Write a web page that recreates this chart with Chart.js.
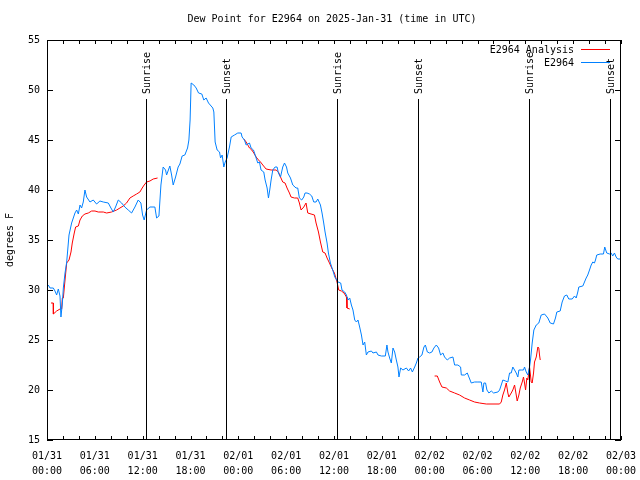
<!DOCTYPE html>
<html>
<head>
<meta charset="utf-8">
<script src="https://cdn.jsdelivr.net/npm/chart.js@4.4.1/dist/chart.umd.min.js"></script>
<style>
  html, body { margin: 0; padding: 0; background: #fff; }
</style>
</head>
<body>
<canvas id="dewChart" width="640" height="480"></canvas>
<script>
// hours since 2025-01-31 00:00 UTC
const obsHours = [0.16,0.38,0.79,1.0,1.21,1.42,1.63,1.75,1.92,2.05,2.26,2.47,2.76,3.09,3.51,3.72,3.93,4.14,4.34,4.55,4.76,4.97,5.39,5.8,6.22,6.64,7.06,7.69,8.02,8.31,8.6,8.94,9.36,9.77,10.19,10.61,11.03,11.44,11.78,11.99,12.19,12.49,12.91,13.53,13.75,14.04,14.29,14.57,14.87,15.0,15.41,15.63,15.83,16.13,16.45,16.67,16.95,17.29,17.63,17.8,17.95,18.08,18.42,18.71,19.01,19.42,19.67,19.96,20.26,20.8,20.93,21.09,21.34,21.64,21.77,21.97,22.18,22.35,22.59,22.89,23.1,23.52,23.93,24.35,24.47,24.77,24.98,25.4,25.6,25.9,26.03,26.23,26.44,26.65,26.85,27.19,27.36,27.61,27.78,27.94,28.11,28.32,28.61,28.86,29.03,29.29,29.57,29.79,30.04,30.2,30.54,30.83,31.24,31.45,31.66,31.95,32.21,32.37,32.62,32.92,33.21,33.46,33.75,33.96,34.3,34.5,34.71,34.88,35.13,35.3,35.55,35.84,36.1,36.5,36.84,37.0,37.34,37.56,37.76,37.97,38.18,38.38,38.6,38.81,39.01,39.22,39.44,39.64,39.85,40.06,40.26,40.69,40.89,41.32,41.52,41.94,42.44,42.64,42.77,42.98,43.19,43.4,43.61,43.82,44.02,44.15,44.36,44.65,45.08,45.36,45.61,45.83,46.12,46.33,46.53,46.74,47.03,47.28,47.46,47.71,48.0,48.28,48.53,48.83,49.12,49.37,49.66,49.87,50.21,50.5,50.92,51.13,51.54,51.88,51.97,52.38,52.72,52.92,53.22,53.63,54.05,54.47,54.68,54.8,55.01,55.18,55.43,55.73,56.02,56.56,56.77,56.98,57.18,57.52,57.81,58.02,58.23,58.43,58.65,58.86,59.06,59.19,59.49,59.77,59.9,60.11,60.31,60.53,60.65,60.86,61.07,61.37,61.69,61.99,62.41,62.62,62.82,63.12,63.53,63.78,63.95,64.37,64.62,64.91,65.2,65.45,65.88,66.17,66.38,66.58,66.71,67.21,67.42,67.63,67.83,68.05,68.26,68.46,68.67,68.8,68.96,69.39,69.8,69.96,70.21,70.55,70.76,70.96,71.18,71.39,71.59,72.0];
const obsDew = [30.5,30.2,30.2,29.9,29.5,30.1,29.4,27.3,28.6,30.2,31.7,32.8,35.5,36.7,37.7,38.0,37.6,38.5,38.2,38.8,40.0,39.3,38.8,39.0,38.6,38.9,38.8,38.7,38.2,37.8,38.3,39.0,38.7,38.3,38.0,37.7,38.3,39.0,38.7,37.5,37.0,38.0,38.3,38.3,37.2,37.4,40.5,42.3,42.0,41.5,42.4,41.5,40.5,41.3,42.3,42.6,43.4,43.5,44.2,45.0,47.0,50.7,50.5,50.2,49.7,49.6,49.0,49.2,48.7,48.2,47.8,44.8,44.0,43.8,43.2,43.5,42.3,42.8,43.2,44.3,45.3,45.5,45.7,45.7,45.3,45.0,44.5,44.7,44.2,44.0,43.7,43.2,42.7,42.8,42.0,41.8,41.0,40.2,39.2,40.0,41.0,42.0,42.3,42.3,41.7,41.3,42.3,42.7,42.3,41.7,41.2,40.5,40.2,40.2,39.2,39.0,39.3,39.7,39.7,39.6,39.4,38.8,38.8,39.1,38.5,37.7,36.7,35.8,34.7,33.7,32.7,32.0,31.3,30.8,30.7,30.0,29.8,29.5,29.0,29.2,28.5,28.0,27.0,26.8,27.0,26.3,25.5,24.5,24.8,23.5,23.8,23.9,23.7,23.8,23.5,23.4,23.4,24.5,23.8,23.2,22.7,24.2,23.8,23.0,22.3,21.3,22.2,22.0,22.2,21.9,22.2,21.8,22.3,22.7,23.2,23.3,23.5,24.3,24.5,23.8,23.7,23.8,24.2,24.5,24.2,23.5,23.7,23.3,23.0,23.2,23.3,22.5,22.5,22.3,21.5,21.5,21.7,21.3,20.7,20.8,20.8,20.8,19.8,20.7,20.7,20.0,19.7,19.9,19.7,19.8,20.0,20.5,21.0,20.9,20.8,21.7,21.7,22.3,22.0,21.7,21.3,22.0,22.0,22.0,22.3,21.8,21.5,22.3,23.0,24.7,26.0,26.5,26.7,27.5,27.6,27.4,27.2,26.7,26.6,27.2,27.8,27.9,28.8,29.4,29.5,29.1,29.1,29.4,29.2,29.8,30.3,30.4,30.8,31.2,31.5,32.0,32.5,32.8,32.7,33.0,33.5,33.6,33.6,34.3,33.7,33.6,33.7,33.4,33.7,33.3,33.1,33.1];

// analysis series, null = gap
const analysisHours = [0.5,0.79,0.8,1.21,1.63,1.84,1.92,2.05,2.26,2.47,2.76,3.01,3.17,3.42,3.59,3.93,4.14,4.43,4.76,5.18,5.6,6.02,6.43,7.06,7.48,8.1,8.73,9.15,9.56,9.98,10.4,10.81,11.24,11.65,11.94,12.19,12.49,12.91,13.32,13.87,19,24.69,24.98,25.19,25.4,25.69,25.94,26.23,26.53,26.78,27.07,27.48,28.11,28.73,29.03,29.29,29.57,29.86,30.11,30.41,30.61,31.04,31.45,31.66,31.87,32.21,32.49,32.71,33.12,33.55,33.75,34.05,34.3,34.59,34.88,35.13,35.43,35.71,36.05,36.38,36.59,36.93,37.26,37.56,37.63,37.97,43,48.62,48.96,49.25,49.54,50.09,50.5,51.13,51.75,52.38,53.01,53.63,54.26,55.1,56.77,56.98,57.18,57.39,57.61,57.81,57.93,58.23,58.43,58.65,58.86,58.98,59.19,59.36,59.61,59.77,59.9,60.03,60.19,60.31,60.53,60.74,60.86,61.03,61.15,61.37,61.57,61.69,61.78,61.87];
const analysisDew = [28.7,28.7,27.6,27.9,28.1,28.1,29.2,29.2,31.0,32.7,33.0,33.8,34.7,35.7,36.3,36.4,37.0,37.4,37.6,37.7,37.9,37.9,37.8,37.8,37.7,37.8,38.0,38.2,38.4,38.7,39.2,39.4,39.6,39.8,40.2,40.5,40.8,40.9,41.1,41.2,null,45.1,44.8,44.5,44.2,44.0,43.7,43.3,43.0,42.8,42.5,42.1,42.0,42.0,41.8,41.3,40.8,40.7,40.2,39.7,39.3,39.2,39.2,38.7,38.0,38.3,38.7,37.7,37.6,37.5,36.7,35.8,34.8,33.8,33.7,33.2,32.7,32.2,31.7,30.8,30.0,29.9,29.7,29.3,28.2,28.1,null,21.4,21.4,20.8,20.3,20.2,19.9,19.7,19.5,19.2,19.0,18.8,18.7,18.6,18.6,18.8,19.5,20.0,20.7,19.7,19.3,19.7,20.0,20.5,19.5,18.9,19.5,20.2,20.8,21.3,20.7,20.0,21.2,21.0,22.3,20.8,20.7,21.7,22.8,23.3,24.3,24.2,23.5,23.0];

const eventHours = [12.46, 22.49, 36.41, 46.57, 60.5, 70.66];
const eventLabels = ["Sunrise", "Sunset", "Sunrise", "Sunset", "Sunrise", "Sunset"];

const tickDates = ["01/31", "01/31", "01/31", "01/31", "02/01", "02/01", "02/01", "02/01", "02/02", "02/02", "02/02", "02/02", "02/03"];
const tickTimes = ["00:00", "06:00", "12:00", "18:00", "00:00", "06:00", "12:00", "18:00", "00:00", "06:00", "12:00", "18:00", "00:00"];

const chartTitle = "Dew Point for E2964 on 2025-Jan-31 (time in UTC)";
const monoFont = "DejaVu Sans Mono";

const toPoints = (xs, ys) => xs.map((h, i) => ({ x: h, y: ys[i] }));

// gnuplot-ish frame, inward ticks, sun lines, title and the legend
const gnuFrame = {
  id: "gnuFrame",
  afterDatasetsDraw(chart) {
    const { ctx, chartArea: a, scales } = chart;
    const x = scales.x, y = scales.y;
    ctx.save();
    ctx.strokeStyle = "#000";
    ctx.lineWidth = 1;
    ctx.beginPath();
    // ticks on all sides
    for (let h = 0; h <= 72; h += 2) {
      const px = Math.round(x.getPixelForValue(h)) + 0.5;
      ctx.moveTo(px, a.bottom); ctx.lineTo(px, a.bottom - 4);
      ctx.moveTo(px, a.top); ctx.lineTo(px, a.top + 4);
    }
    for (let v = 15; v <= 55; v += 5) {
      const py = Math.round(y.getPixelForValue(v)) + 0.5;
      ctx.moveTo(a.left, py); ctx.lineTo(a.left + 6, py);
      ctx.moveTo(a.right, py); ctx.lineTo(a.right - 6, py);
    }
    // sunrise / sunset lines
    eventHours.forEach(h => {
      const px = Math.round(x.getPixelForValue(h)) + 0.5;
      ctx.moveTo(px, a.top + 59); ctx.lineTo(px, a.bottom);
    });
    ctx.stroke();
    ctx.strokeRect(a.left + 0.5, a.top + 0.5, a.right - a.left - 1, a.bottom - a.top - 1);

    ctx.fillStyle = "#000";
    ctx.font = "10px " + monoFont;

    // title
    ctx.textAlign = "center";
    ctx.textBaseline = "middle";
    ctx.fillText(chartTitle, 332, 19);

    eventHours.forEach((h, i) => {
      const px = Math.round(x.getPixelForValue(h)) + 1;
      ctx.save();
      ctx.translate(px, a.top + 54);
      ctx.rotate(-Math.PI / 2);
      ctx.textAlign = "left";
      ctx.textBaseline = "middle";
      ctx.fillText(eventLabels[i], 0, 0);
      ctx.restore();
    });

    // legend, text left of the line sample
    ctx.textAlign = "right";
    ctx.textBaseline = "middle";
    const items = [chart.data.datasets[0], chart.data.datasets[1]];
    items.forEach((ds, i) => {
      const ly = a.top + 10 + i * 13;
      ctx.fillStyle = "#000";
      ctx.fillText(ds.label, a.right - 47, ly);
      ctx.strokeStyle = ds.borderColor;
      ctx.beginPath();
      ctx.moveTo(a.right - 40, ly - 0.5);
      ctx.lineTo(a.right - 11, ly - 0.5);
      ctx.stroke();
    });
    ctx.restore();
  }
};

new Chart(document.getElementById("dewChart"), {
  type: "line",
  data: {
    datasets: [
      {
        label: "E2964 Analysis",
        data: toPoints(analysisHours, analysisDew),
        borderColor: "#ff0000",
        borderWidth: 1,
        pointRadius: 0,
        tension: 0,
        spanGaps: false,
        order: 1
      },
      {
        label: "E2964",
        data: toPoints(obsHours, obsDew),
        borderColor: "#0080ff",
        borderWidth: 1,
        pointRadius: 0,
        tension: 0,
        order: 0
      }
    ]
  },
  plugins: [gnuFrame],
  options: {
    responsive: false,
    animation: false,
    layout: { padding: { left: 0, right: 19, top: 40, bottom: 0 } },
    plugins: {
      legend: { display: false },
      tooltip: { enabled: false },
      title: { display: false }
    },
    scales: {
      x: {
        type: "linear",
        min: 0,
        max: 72,
        grid: { display: false, drawTicks: false },
        border: { display: false },
        afterFit: s => { s.height = 40; s.paddingLeft = 0; s.paddingRight = 0; },
        ticks: {
          stepSize: 6,
          autoSkip: false,
          maxRotation: 0,
          padding: 9,
          color: "#000",
          font: { family: monoFont, size: 10, lineHeight: 1.5 },
          callback: v => (v % 6 === 0 ? [tickDates[v / 6], tickTimes[v / 6]] : "")
        }
      },
      y: {
        min: 15,
        max: 55,
        grid: { display: false, drawTicks: false },
        border: { display: false },
        afterFit: s => { s.width = 47; s.paddingTop = 0; s.paddingBottom = 0; },
        ticks: {
          stepSize: 5,
          padding: 7,
          color: "#000",
          font: { family: monoFont, size: 10 }
        },
        title: {
          display: true,
          text: "degrees F",
          color: "#000",
          font: { family: monoFont, size: 10 },
          padding: { top: 4, bottom: 0 }
        }
      }
    }
  }
});
</script>
</body>
</html>
